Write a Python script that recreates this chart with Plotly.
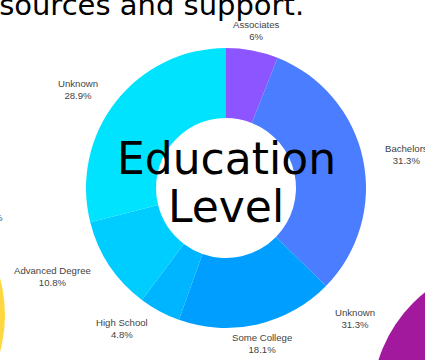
import math
import plotly.graph_objects as go

W, H = 425, 360

labels = ["Associates", "Bachelors", "Some College", "High School", "Advanced Degree", "Unknown"]
values = [6, 31.3, 18.1, 4.8, 10.8, 28.9]
colors = ["#8C55FF", "#4A7DFF", "#009EFF", "#00B5FF", "#00CDFF", "#00E3FF"]

center_lines = ["Education", "Level"]
title_text = "resources and support."
side_label = "Unknown<br>31.3%"
left_fragment = "%"

# pie geometry in pixels
cx, cy, r = 226, 188, 140
label_r = 160

LABEL_FONT = dict(family="Liberation Sans, Arial, sans-serif", size=9.6, color="#444444")
BIG_FONT = "DejaVu Sans, sans-serif"

fig = go.Figure()
fig.add_trace(go.Pie(
    labels=labels,
    values=values,
    hole=0.5,
    sort=False,
    direction="clockwise",
    rotation=0,
    marker=dict(colors=colors, line=dict(width=0)),
    textinfo="none",
    hoverinfo="skip",
    showlegend=False,
    domain=dict(x=[(cx - r) / W, (cx + r) / W], y=[(H - cy - r) / H, (H - cy + r) / H]),
))

annotations = []

# outside slice labels placed at the mid-angle of each slice
total = sum(values)
cum = 0.0
for lab, v in zip(labels, values):
    mid = (cum + v / 2) / total * 2 * math.pi
    cum += v
    s, c = math.sin(mid), math.cos(mid)
    px = cx + label_r * s
    py = cy - label_r * c
    if s > 0.5:
        xa = "left"
    elif s < -0.3:
        xa = "right"
    else:
        xa = "center"
    annotations.append(dict(
        text=f"{lab}<br>{v:g}%", x=px / W, y=1 - py / H, xref="paper", yref="paper",
        showarrow=False, font=LABEL_FONT, xanchor=xa, yanchor="middle",
    ))

# center title, two lines
annotations.append(dict(text=center_lines[0], x=cx / W, y=1 - 158 / H, xref="paper", yref="paper",
                        showarrow=False, font=dict(family=BIG_FONT, size=44, color="#000000"),
                        xanchor="center", yanchor="middle"))
annotations.append(dict(text=center_lines[1], x=cx / W, y=1 - 206 / H, xref="paper", yref="paper",
                        showarrow=False, font=dict(family=BIG_FONT, size=44, color="#000000"),
                        xanchor="center", yanchor="middle"))

# cut-off heading at the top
annotations.append(dict(text=title_text, x=306 / W, y=1 - 24 / H, xref="paper", yref="paper",
                        showarrow=False, font=dict(family=BIG_FONT, size=29, color="#000000"),
                        xanchor="right", yanchor="bottom"))

# fragments of neighbouring charts
annotations.append(dict(text=side_label, x=355 / W, y=1 - 318 / H, xref="paper", yref="paper",
                        showarrow=False, font=LABEL_FONT, xanchor="center", yanchor="middle"))
annotations.append(dict(text=left_fragment, x=5 / W, y=1 - 218 / H, xref="paper", yref="paper",
                        showarrow=False, font=LABEL_FONT, xanchor="right", yanchor="middle"))

shapes = [
    dict(type="circle", xref="paper", yref="paper", layer="below",
         x0=(-135 - 140) / W, x1=(-135 + 140) / W,
         y0=(H - 315 - 140) / H, y1=(H - 315 + 140) / H,
         fillcolor="#FFD740", line=dict(width=0)),
    dict(type="circle", xref="paper", yref="paper", layer="below",
         x0=(512 - 140) / W, x1=(512 + 140) / W,
         y0=(H - 402 - 140) / H, y1=(H - 402 + 140) / H,
         fillcolor="#A3199E", line=dict(width=0)),
]

fig.update_layout(
    width=W, height=H,
    margin=dict(l=0, r=0, t=0, b=0),
    paper_bgcolor="#FFFFFF",
    plot_bgcolor="#FFFFFF",
    shapes=shapes,
    annotations=annotations,
)

fig.write_html("out.html")
